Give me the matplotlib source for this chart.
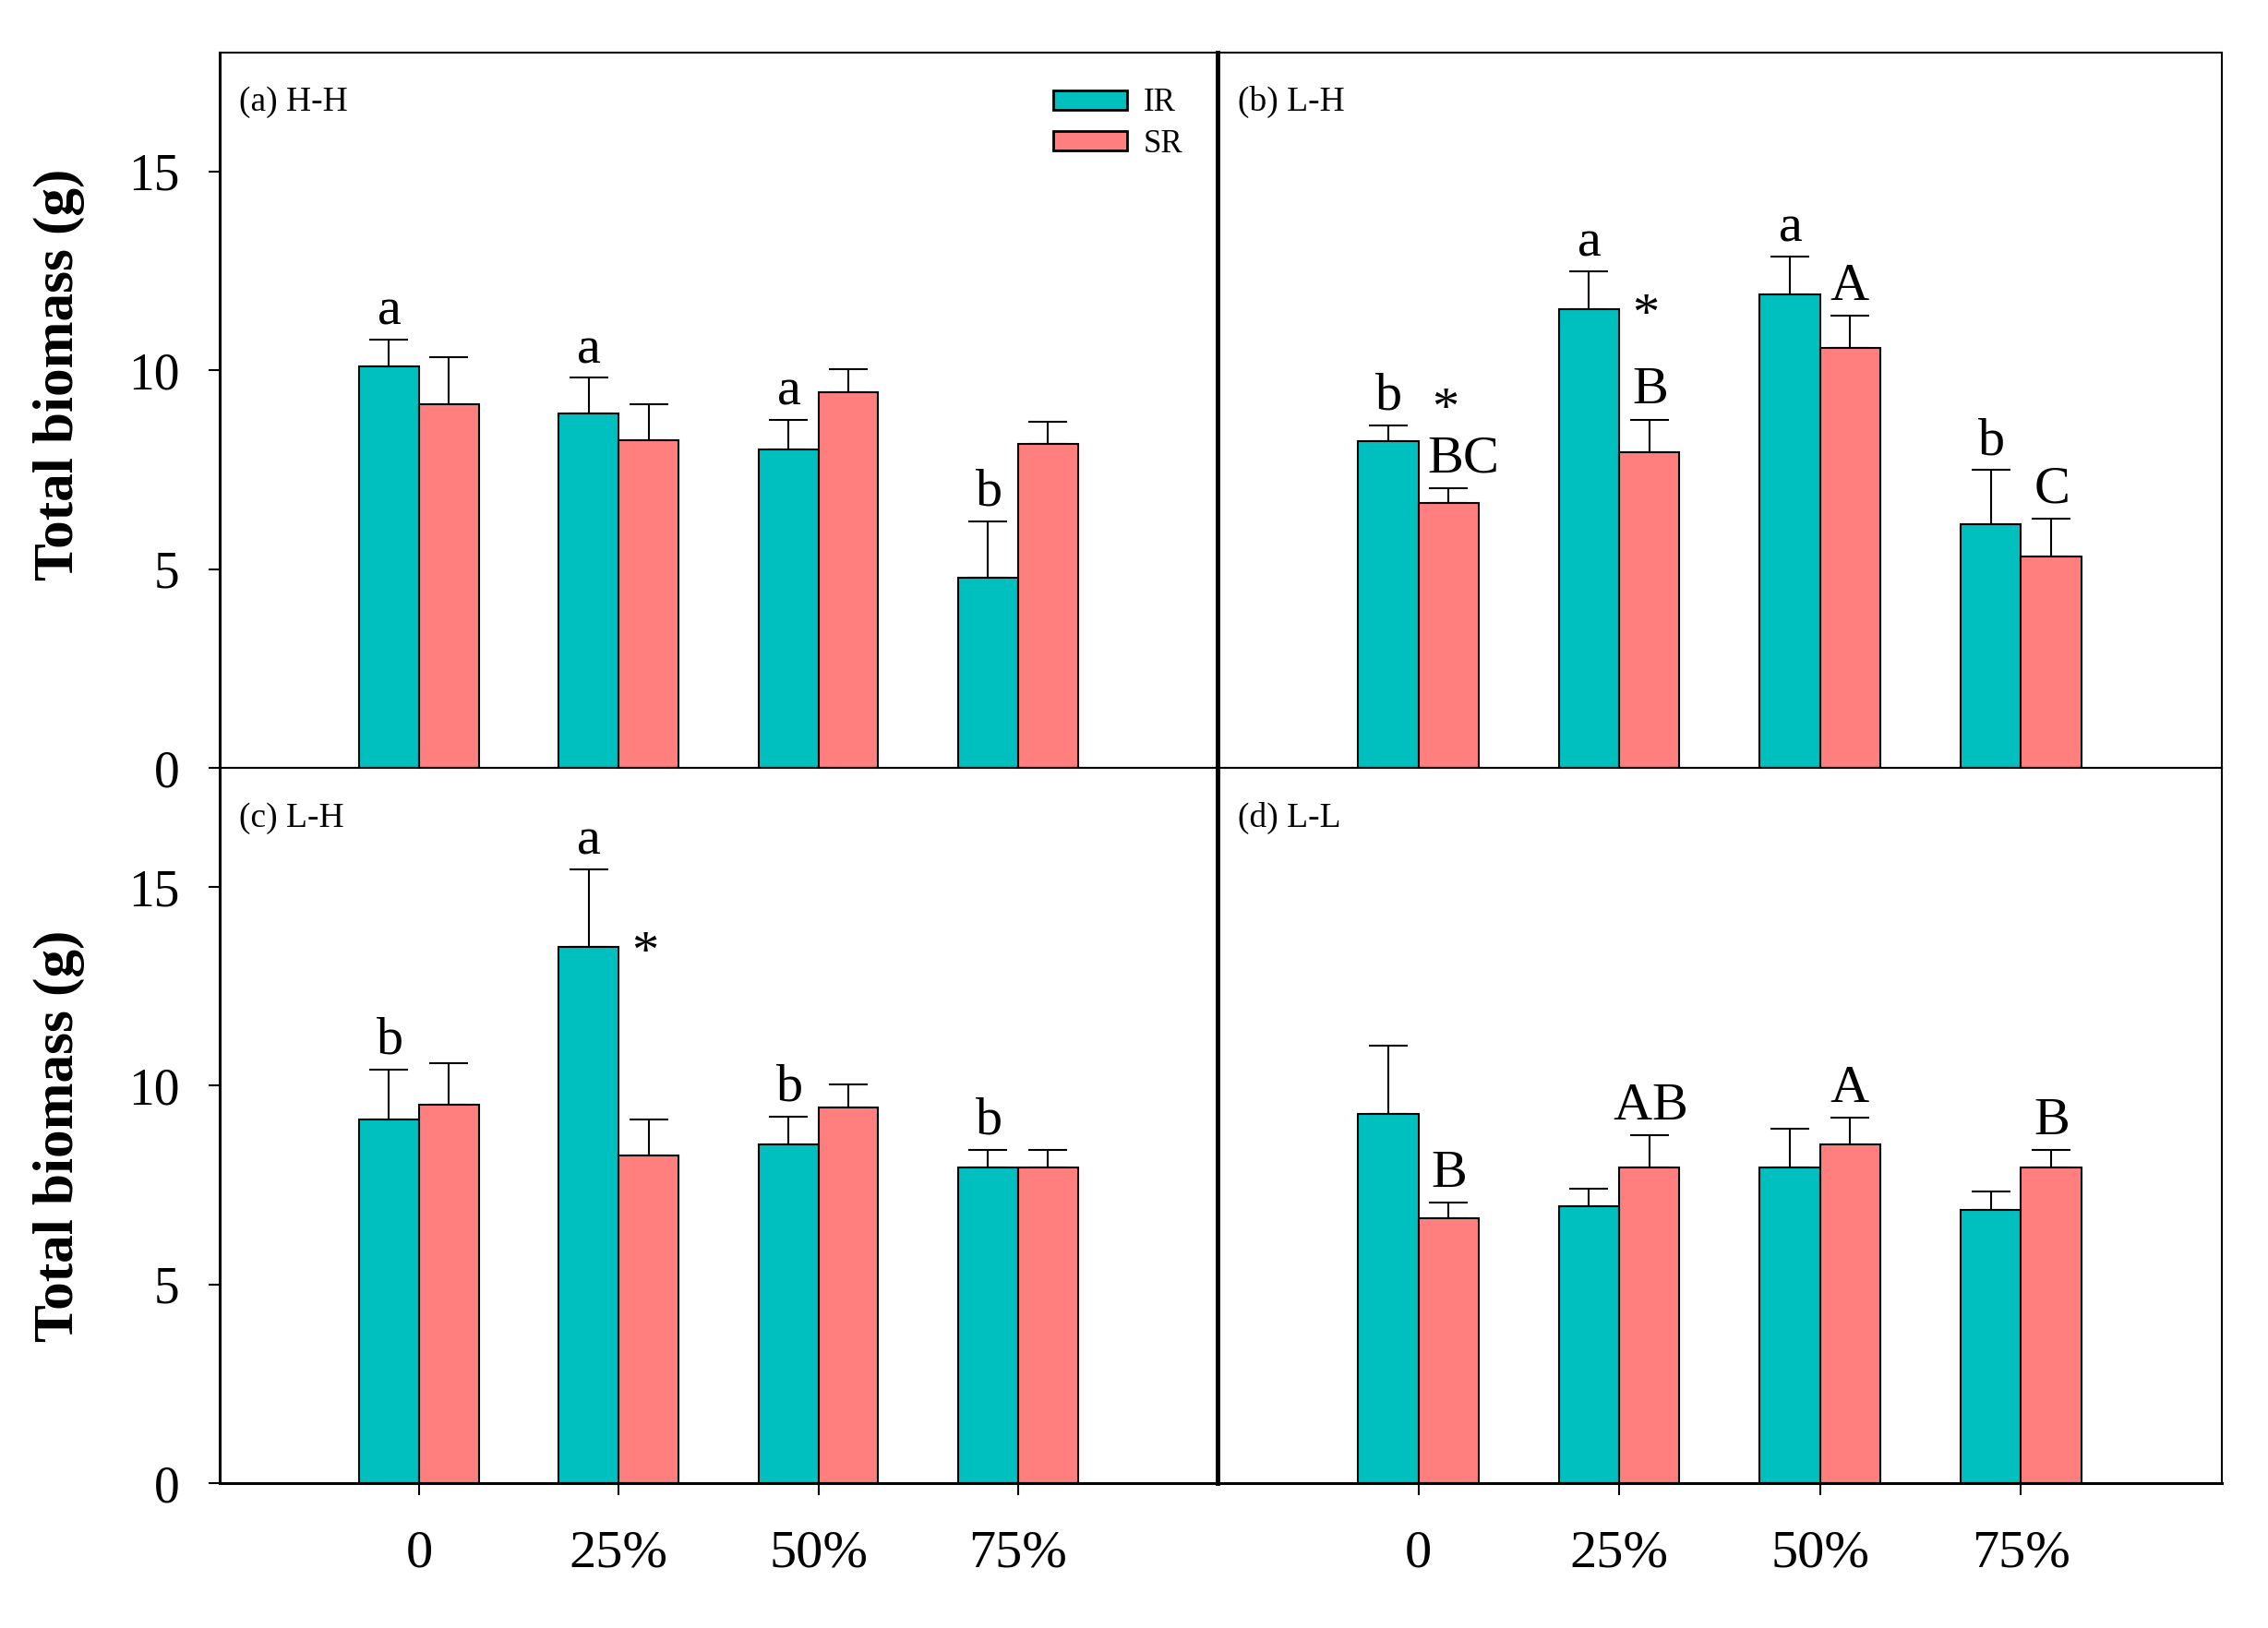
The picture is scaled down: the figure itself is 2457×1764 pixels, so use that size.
import numpy as np
import matplotlib.pyplot as plt
from matplotlib.patches import Patch

plt.rcParams['font.family'] = ['Liberation Serif', 'DejaVu Serif']
plt.rcParams['mathtext.fontset'] = 'custom'
plt.rcParams['mathtext.rm'] = 'Liberation Serif'

""" datos leidos de la figura """
niveles = ['0', '25%', '50%', '75%']
titulos = ['(a) H-H', '(b) L-H', '(c) L-H', '(d) L-L']

# (a) H-H
ir_a = [10.10, 8.91, 8.02, 4.79]
ir_a_err = [0.67, 0.90, 0.74, 1.42]
sr_a = [9.14, 8.24, 9.45, 8.15]
sr_a_err = [1.20, 0.90, 0.58, 0.55]
letras_ir_a = ['a', 'a', 'a', 'b']
letras_sr_a = ['', '', '', '']
estrellas_a = []

# (b) L-H
ir_b = [8.23, 11.54, 11.92, 6.13]
ir_b_err = [0.38, 0.95, 0.95, 1.36]
sr_b = [6.66, 7.93, 10.57, 5.32]
sr_b_err = [0.37, 0.83, 0.80, 0.96]
letras_ir_b = ['b', 'a', 'a', 'b']
letras_sr_b = ['BC', 'B', 'A', 'C']
estrellas_b = [0, 1]

# (c) L-H
ir_c = [9.15, 13.50, 8.53, 7.94]
ir_c_err = [1.26, 1.95, 0.69, 0.45]
sr_c = [9.52, 8.25, 9.45, 7.94]
sr_c_err = [1.06, 0.90, 0.58, 0.45]
letras_ir_c = ['b', 'a', 'b', 'b']
letras_sr_c = ['', '', '', '']
estrellas_c = [1]

# (d) L-L
ir_d = [9.29, 6.96, 7.94, 6.88]
ir_d_err = [1.73, 0.46, 0.98, 0.46]
sr_d = [6.67, 7.94, 8.53, 7.94]
sr_d_err = [0.38, 0.81, 0.67, 0.45]
letras_ir_d = ['', '', '', '']
letras_sr_d = ['B', 'AB', 'A', 'B']
estrellas_d = []

paneles = [
    (ir_a, ir_a_err, sr_a, sr_a_err, letras_ir_a, letras_sr_a, estrellas_a),
    (ir_b, ir_b_err, sr_b, sr_b_err, letras_ir_b, letras_sr_b, estrellas_b),
    (ir_c, ir_c_err, sr_c, sr_c_err, letras_ir_c, letras_sr_c, estrellas_c),
    (ir_d, ir_d_err, sr_d, sr_d_err, letras_ir_d, letras_sr_d, estrellas_d),
]

""" estilo """
color_ir = '#00BFBF'
color_sr = '#FF7F7F'
ancho = 0.3
lw = 1.5
fs_ytick = 40
fs_xtick = 42
fs_letra = 42
fs_panel = 27

fig = plt.figure(figsize=(24.57, 17.64), dpi=100)
posiciones = [
    [0.0967, 0.5283, 0.4402, 0.4396],
    [0.5368, 0.5283, 0.4428, 0.4396],
    [0.0967, 0.0890, 0.4402, 0.4393],
    [0.5368, 0.0890, 0.4428, 0.4393],
]

x = np.arange(1, len(niveles) + 1)

for k, (ir, ir_err, sr, sr_err, let_ir, let_sr, estrellas) in enumerate(paneles):
    ax = fig.add_axes(posiciones[k])
    ir = np.array(ir); sr = np.array(sr)
    ir_err = np.array(ir_err); sr_err = np.array(sr_err)

    ax.bar(x - ancho / 2, ir, ancho, color=color_ir, edgecolor='black', linewidth=lw, zorder=2)
    ax.bar(x + ancho / 2, sr, ancho, color=color_sr, edgecolor='black', linewidth=lw, zorder=2)
    ax.errorbar(x - ancho / 2, ir, yerr=[np.zeros_like(ir_err), ir_err], fmt='none',
                ecolor='black', elinewidth=lw, capsize=15, capthick=lw, zorder=1)
    ax.errorbar(x + ancho / 2, sr, yerr=[np.zeros_like(sr_err), sr_err], fmt='none',
                ecolor='black', elinewidth=lw, capsize=15, capthick=lw, zorder=1)

    # letras de significancia (mathtext: caja ajustada al glifo)
    tope_sr = np.full(len(x), -np.inf)
    for i in range(len(x)):
        if let_ir[i]:
            ax.text(x[i] - ancho / 2, ir[i] + ir_err[i] + 0.4, rf'$\mathrm{{{let_ir[i]}}}$',
                    ha='center', va='baseline', fontsize=fs_letra)
        if let_sr[i]:
            # las etiquetas de dos letras junto a la barra IR se corren un poco
            dx = 0.07 if len(let_sr[i]) > 1 and ir[i] > sr[i] + sr_err[i] else 0
            ax.text(x[i] + ancho / 2 + dx, sr[i] + sr_err[i] + 0.4, rf'$\mathrm{{{let_sr[i]}}}$',
                    ha='center', va='baseline', fontsize=fs_letra)
            tope_sr[i] = sr[i] + sr_err[i] + 0.4 + 0.95
    for i in estrellas:
        y_centro = max(ir[i] - 0.15, tope_sr[i] + 0.65)
        ax.text(x[i] + 0.13, y_centro, r'$\mathrm{*}$', ha='center', va='center',
                fontsize=fs_letra)

    ax.set_xlim(0, 5)
    ax.set_ylim(0, 18)
    ax.text(0.02, 0.93, titulos[k], transform=ax.transAxes, fontsize=fs_panel, va='center')

    for s in ax.spines.values():
        s.set_linewidth(1.5)

    if k % 2 == 0:
        ax.set_yticks([0, 5, 10, 15])
        ax.tick_params(axis='y', direction='out', length=9, width=1.5, pad=22, labelsize=fs_ytick)
        ax.spines['left'].set_linewidth(2.2)
    else:
        ax.set_yticks([])
        ax.spines['left'].set_linewidth(3.5)

    if k >= 2:
        ax.set_xticks(x)
        ax.set_xticklabels(niveles)
        ax.tick_params(axis='x', direction='out', length=9, width=1.5, pad=27, labelsize=fs_xtick)
        ax.spines['bottom'].set_linewidth(2.2)
    else:
        ax.set_xticks([])

    if k == 0:
        manijas = [Patch(facecolor=color_ir, edgecolor='black', linewidth=2),
                   Patch(facecolor=color_sr, edgecolor='black', linewidth=2)]
        ax.legend(manijas, ['IR', 'SR'], loc='upper right', bbox_to_anchor=(0.965, 0.95),
                  frameon=False, fontsize=25, handlelength=2.3, handleheight=0.55,
                  labelspacing=0.33, handletextpad=0.5, borderpad=0, borderaxespad=0)

fig.text(0.026, 0.770, 'Total biomass (g)', rotation=90, ha='center', va='center',
         fontsize=44, fontweight='bold')
fig.text(0.026, 0.302, 'Total biomass (g)', rotation=90, ha='center', va='center',
         fontsize=44, fontweight='bold')

plt.savefig('out.png', dpi=100)
